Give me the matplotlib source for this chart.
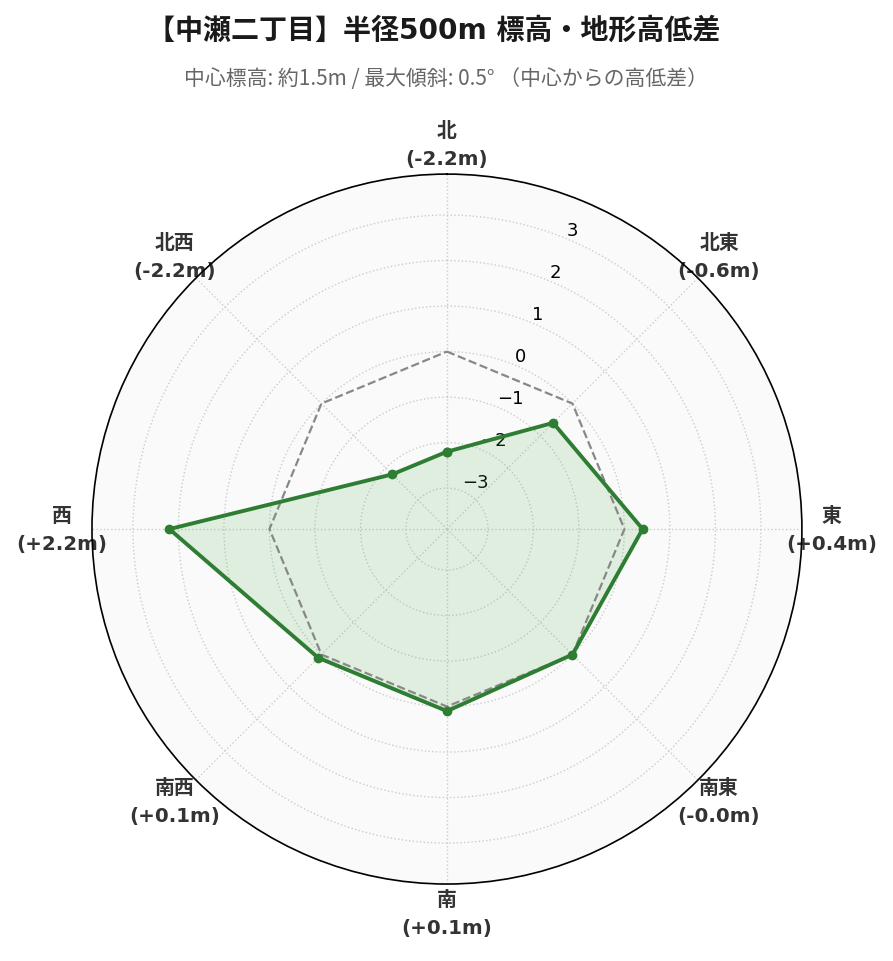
import numpy as np
import matplotlib
matplotlib.use('Agg')
import matplotlib.pyplot as plt

plt.rcParams['font.family'] = ['DejaVu Sans', 'Noto Sans CJK JP']
plt.rcParams['axes.unicode_minus'] = True

directions = ['北', '北東', '東', '南東', '南', '南西', '西', '北西']
diffs = [-2.2, -0.6, 0.4, -0.0, 0.1, 0.1, 2.2, -2.2]
rticks = [-3, -2, -1, 0, 1, 2, 3]

title = '【中瀬二丁目】半径500m 標高・地形高低差'
subtitle = '中心標高: 約1.5m / 最大傾斜: 0.5° （中心からの高低差）'

n = len(directions)
angles = np.linspace(0, 2 * np.pi, n, endpoint=False)
ang_c = np.append(angles, angles[0])
vals_c = np.append(diffs, diffs[0])

fig = plt.figure(figsize=(8.93, 9.62), dpi=100)
ax = fig.add_axes([0.103, 0.080, 0.795, 0.738], projection='polar')
ax.set_theta_zero_location('N')
ax.set_theta_direction(-1)
ax.set_facecolor('#fafafa')

ax.set_ylim(-3.9, 3.9)

# zero reference
ax.plot(ang_c, np.zeros_like(ang_c), color='#888888', lw=1.6, ls='--', zorder=3)

ax.fill(ang_c, vals_c, color='#4caf50', alpha=0.15, zorder=2)
ax.plot(ang_c, vals_c, color='#2e7d32', lw=2.8, marker='o', ms=6, zorder=4)

ax.set_yticks(rticks)
ax.set_yticklabels([str(t).replace('-', '\u2212') for t in rticks], fontsize=13)
ax.set_rlabel_position(22.5)

labels = []
for d, v in zip(directions, diffs):
    s = f'{v:+.1f}'
    if s == '+0.0' and np.signbit(v):
        s = '-0.0'
    labels.append(f'{d}\n({s}m)')
ax.set_xticks(angles)
ax.set_xticklabels(labels, fontsize=14.3, fontweight='bold', color='#333333',
                   linespacing=1.6)
ax.tick_params(axis='x', pad=11)

ax.grid(True, color='#cccccc', ls=':', lw=1.0)
ax.spines['polar'].set_color('black')
ax.spines['polar'].set_linewidth(1.2)

fig.text(0.4855, 0.968, title, ha='center', va='center', fontsize=20.2,
         fontweight='bold', color='#1a1a1a')
fig.text(0.5, 0.918, subtitle, ha='center', va='center', fontsize=15,
         color='#666666', family=['Noto Sans CJK JP', 'DejaVu Sans'])

fig.savefig('out.png', dpi=100, facecolor='white')
